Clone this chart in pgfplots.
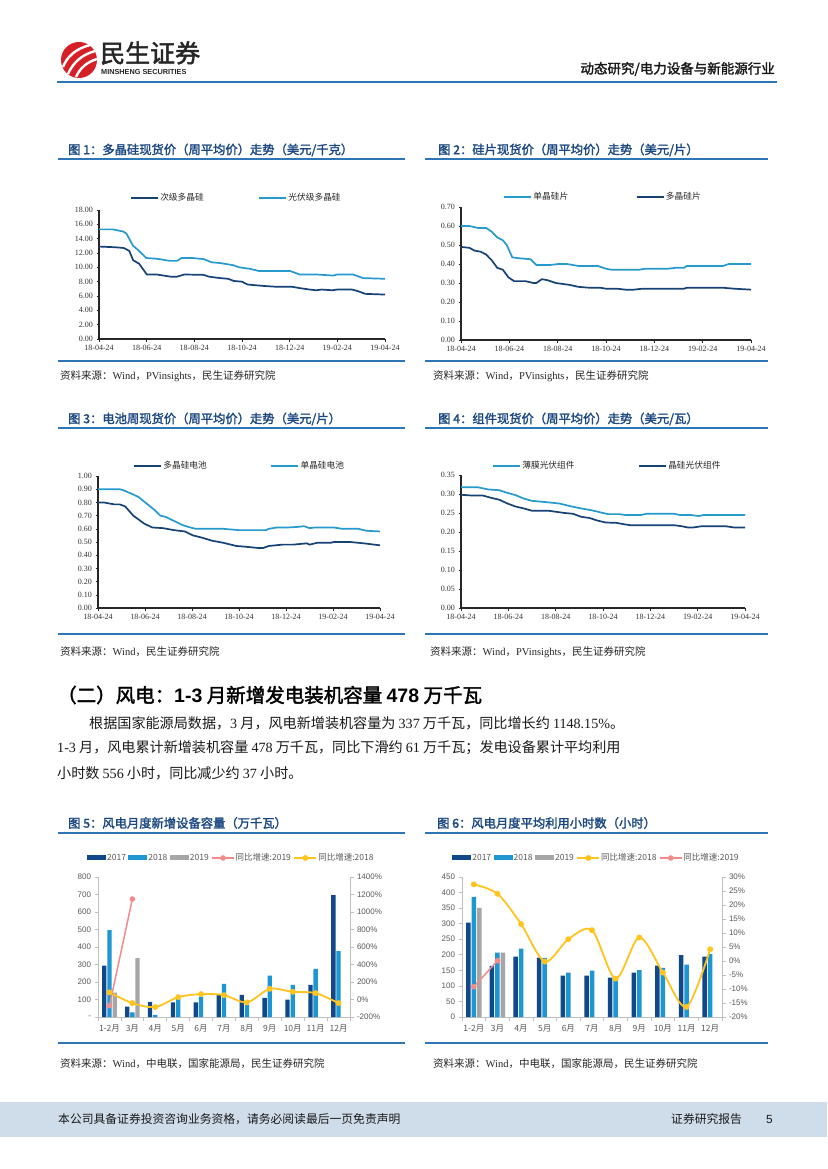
\documentclass[border=0pt]{standalone}
\usepackage{fontspec}
\usepackage{pgfplots}
\pgfplotsset{compat=1.18}
\setmainfont{Liberation Serif}
\newfontfamily\cjk{Noto Sans CJK SC}[AutoFakeBold=2]
\newfontfamily\arial{Liberation Sans}
\newfontfamily\tnr{Liberation Serif}

\definecolor{navy}{RGB}{22,66,118}
\definecolor{lblue}{RGB}{38,153,206}
\definecolor{rulec}{RGB}{46,117,182}
\definecolor{titleblue}{RGB}{28,72,130}
\definecolor{bar17}{RGB}{16,72,138}
\definecolor{bar18}{RGB}{30,150,210}
\definecolor{bar19}{RGB}{166,166,166}
\definecolor{yel}{RGB}{255,196,30}
\definecolor{pinkl}{RGB}{242,140,140}
\definecolor{axgrey}{RGB}{191,191,191}
\definecolor{txtgrey}{RGB}{89,89,89}
\definecolor{footbg}{RGB}{207,220,233}
\definecolor{logored}{RGB}{214,32,40}

\pgfplotsset{
  lc/.style={scale only axis, anchor=south west, xmin=0, xmax=52, ymin=0,
    enlargelimits=false, clip=false,
    axis x line*=bottom, axis y line*=left,
    axis line style={line width=1.2pt, black!85},
    xtick={0,8.6667,17.3333,26,34.6667,43.3333,52},
    xticklabels={18-04-24,18-06-24,18-08-24,18-10-24,18-12-24,19-02-24,19-04-24},
    tick align=outside, major tick length=2.5pt,
    tick style={black!85, line width=0.6pt},
    tick label style={font=\tnr\fontsize{8}{8.5}\selectfont, text=black!80},
    yticklabel style={/pgf/number format/fixed, /pgf/number format/fixed zerofill,
      /pgf/number format/precision=2, /pgf/number format/assume math mode=true},
    legend style={draw=none, fill=none, legend columns=2, anchor=west,
      font=\cjk\fontsize{8.7}{9}\selectfont, text=black!85, inner sep=0pt, nodes={inner sep=1.5pt}},
    legend image code/.code={\draw[#1] (0pt,0pt) -- (27pt,0pt);},
    every axis plot/.append style={line width=1.7pt, no marks},
  },
  bc/.style={scale only axis, anchor=south west, xmin=-0.5, xmax=10.5,
    enlargelimits=false, clip=false,
    axis line style={axgrey, line width=0.8pt},
    tick style={axgrey, line width=0.8pt}, tick align=outside, major tick length=3.5pt,
    tick label style={font=\arial\fontsize{8}{9}\selectfont, text=txtgrey},
  },
  bcx/.style={axis x line*=bottom, axis y line*=left,
    xtick={-0.5,0.5,...,10.5}, xticklabels={},
    extra x ticks={0,1,...,10},
    extra x tick labels={1-2月,3月,4月,5月,6月,7月,8月,9月,10月,11月,12月},
    extra x tick style={xtick style={draw=none}},
    xticklabel style={font=\cjk\fontsize{8.5}{9}\selectfont, text=txtgrey, yshift=-1pt},
    legend style={draw=none, fill=none, legend columns=5, anchor=west,
      font=\cjk\fontsize{8.5}{9}\selectfont, text=txtgrey, inner sep=0pt, nodes={inner sep=1pt},
      /tikz/every even column/.append style={column sep=1.5pt}},
  },
  barleg/.style={legend image code/.code={\fill[##1] (0pt,-2.5pt) rectangle (19pt,2.5pt);}},
  lineleg/.style={legend image code/.code={\draw[mark repeat=2, mark phase=2, ##1] plot coordinates {(0pt,0pt) (11pt,0pt) (22pt,0pt)};}},
}

\begin{document}
\begin{tikzpicture}
\fill[white] (0pt,0pt) rectangle (827pt,-1169pt);
\path[use as bounding box] (0pt,0pt) rectangle (827pt,-1169pt);

% ---------- header ----------
\fill[logored] (79pt,-60pt) circle (18pt);
\draw[white, line width=2.4pt] (63pt,-67pt) .. controls (67pt,-57pt) and (75pt,-49pt) .. (90pt,-45pt);
\draw[white, line width=2.4pt] (68pt,-74pt) .. controls (73pt,-63pt) and (81pt,-55pt) .. (95pt,-51pt);
\draw[white, line width=2.4pt] (76pt,-77pt) .. controls (80pt,-68pt) and (87pt,-62pt) .. (97pt,-59pt);
\node[anchor=west, font=\cjk\bfseries\fontsize{25}{25}\selectfont, text=black!85, inner sep=0pt] at (100pt,-53pt) {民生证券};
\node[anchor=west, font=\arial\bfseries\fontsize{7.3}{8}\selectfont, text=black!85, inner sep=0pt] at (101pt,-72pt) {MINSHENG SECURITIES};
\node[anchor=east, font=\cjk\bfseries\fontsize{13.5}{14}\selectfont, text=black!90, inner sep=0pt] at (775pt,-69pt) {动态研究/电力设备与新能源行业};
\draw[rulec, line width=2pt] (57pt,-82pt) -- (777pt,-82pt);

% ---------- titles, rules, sources ----------
\tikzset{ftitle/.style={anchor=west, font=\cjk\bfseries\fontsize{12.3}{12.5}\selectfont, text=titleblue, inner sep=0pt},
  fsrc/.style={anchor=west, font=\cjk\fontsize{10.5}{11}\selectfont, text=black!85, inner sep=0pt}}
\node[ftitle] at (68pt,-150pt) {图 1：多晶硅现货价（周平均价）走势（美元/千克）};
\node[ftitle] at (438pt,-150pt) {图 2：硅片现货价（周平均价）走势（美元/片）};
\node[ftitle] at (68pt,-419pt) {图 3：电池周现货价（周平均价）走势（美元/片）};
\node[ftitle] at (438pt,-419pt) {图 4：组件现货价（周平均价）走势（美元/瓦）};
\node[ftitle] at (68pt,-823pt) {图 5：风电月度新增设备容量（万千瓦）};
\node[ftitle] at (437pt,-823pt) {图 6：风电月度平均利用小时数（小时）};
\foreach \y in {159,361,428,634,833,1043} {
  \draw[rulec, line width=1.5pt] (58pt,-\y pt) -- (405pt,-\y pt);
  \draw[rulec, line width=1.5pt] (425pt,-\y pt) -- (768pt,-\y pt);
}
\node[fsrc] at (60pt,-376pt) {资料来源：{\tnr Wind}，{\tnr PVinsights}，民生证券研究院};
\node[fsrc] at (433pt,-376pt) {资料来源：{\tnr Wind}，{\tnr PVinsights}，民生证券研究院};
\node[fsrc] at (60pt,-652pt) {资料来源：{\tnr Wind}，民生证券研究院};
\node[fsrc] at (430pt,-652pt) {资料来源：{\tnr Wind}，{\tnr PVinsights}，民生证券研究院};
\node[fsrc] at (60pt,-1064pt) {资料来源：{\tnr Wind}，中电联，国家能源局，民生证券研究院};
\node[fsrc] at (433pt,-1064pt) {资料来源：{\tnr Wind}，中电联，国家能源局，民生证券研究院};

% ---------- section text ----------
\node[anchor=west, font=\cjk\bfseries\fontsize{19.5}{20}\selectfont, text=black, inner sep=0pt] at (57pt,-695pt) {（二）风电：{\arial\bfseries 1-3} 月新增发电装机容量 {\arial\bfseries 478} 万千瓦};
\tikzset{body/.style={anchor=west, font=\cjk\fontsize{14.1}{15}\selectfont, text=black!90, inner sep=0pt}}
\node[body] at (89pt,-723pt) {根据国家能源局数据，{\tnr 3} 月，风电新增装机容量为 {\tnr 337} 万千瓦，同比增长约 {\tnr 1148.15\%}。};
\node[body] at (57pt,-748pt) {{\tnr 1-3} 月，风电累计新增装机容量 {\tnr 478} 万千瓦，同比下滑约 {\tnr 61} 万千瓦；发电设备累计平均利用};
\node[body] at (57pt,-773pt) {小时数 {\tnr 556} 小时，同比减少约 {\tnr 37} 小时。};

% ---------- footer ----------
\fill[footbg] (0pt,-1102pt) rectangle (827pt,-1137pt);
\node[anchor=west, font=\cjk\fontsize{11.8}{12}\selectfont, text=black!90, inner sep=0pt] at (58pt,-1119pt) {本公司具备证券投资咨询业务资格，请务必阅读最后一页免责声明};
\node[anchor=west, font=\cjk\fontsize{11.8}{12}\selectfont, text=black!90, inner sep=0pt] at (671pt,-1119pt) {证券研究报告};
\node[anchor=west, font=\arial\fontsize{11.8}{12}\selectfont, text=black!90, inner sep=0pt] at (766pt,-1119pt) {5};

% ---------- Chart 1 ----------
\begin{axis}[lc, at={(99pt,-339pt)}, width=286pt, height=129pt, ymax=18, ytick={0,2,...,18},
  legend style={at={(0.108,1.093)}, /tikz/every even column/.append style={column sep=53pt}}]
\addplot[navy] coordinates {(0,12.9)(3,12.8)(4.5,12.7)(5.5,12.3)(6.2,11.0)(7.3,10.5)(8.7,9.0)(10.5,9.0)(13,8.7)(14.2,8.7)(15.5,9.0)(19,8.95)(20,8.7)(22,8.5)(23.5,8.4)(24.5,8.1)(26,8.0)(27,7.6)(28.5,7.5)(30,7.4)(32,7.3)(35,7.3)(36.5,7.1)(38.3,6.9)(39.5,6.8)(40.5,6.9)(42.4,6.8)(43.3,6.9)(46,6.9)(47,6.7)(48.4,6.3)(52,6.2)};
\addlegendentry{次级多晶硅}
\addplot[lblue] coordinates {(0,15.3)(2.5,15.3)(4.4,15.0)(5,14.7)(6.2,13.0)(7,12.5)(8.6,11.3)(10.5,11.2)(12.9,10.9)(14.2,10.9)(15,11.3)(17,11.3)(19,11.15)(20.5,10.7)(22,10.6)(24.4,10.3)(25.5,10.0)(27.4,9.8)(29,9.5)(34.7,9.5)(36.5,9.0)(39.6,9.0)(42.6,8.85)(43.3,9.0)(46.2,9.0)(48,8.5)(52,8.4)};
\addlegendentry{光伏级多晶硅}
\end{axis}

% ---------- Chart 2 ----------
\begin{axis}[lc, at={(461pt,-340pt)}, width=290pt, height=133pt, ymax=0.7, ytick={0,0.1,...,0.7},
  legend style={at={(0.145,1.075)}, /tikz/every even column/.append style={column sep=66pt}}]
\addplot[lblue] coordinates {(0,0.60)(1.5,0.60)(3,0.59)(4.5,0.59)(5.5,0.57)(6.5,0.54)(7.5,0.525)(8.2,0.50)(9.2,0.435)(10.5,0.43)(12.5,0.425)(13.5,0.395)(16,0.395)(17.5,0.40)(19,0.40)(21,0.39)(24.5,0.39)(26,0.375)(27,0.37)(32,0.37)(33,0.375)(37,0.375)(38.5,0.38)(40,0.38)(40.5,0.39)(47,0.39)(48,0.40)(52,0.40)};
\addlegendentry{单晶硅片}
\addplot[navy] coordinates {(0,0.49)(1.5,0.485)(2.5,0.47)(3.5,0.465)(4.5,0.45)(5.5,0.42)(6.5,0.38)(7.5,0.37)(8.5,0.33)(9.5,0.31)(11.5,0.31)(13,0.30)(13.5,0.30)(14.5,0.32)(15.5,0.315)(17,0.30)(19.5,0.29)(21,0.28)(23,0.275)(25,0.275)(26,0.27)(28,0.27)(29.5,0.265)(31,0.265)(32.5,0.27)(35,0.27)(40,0.27)(40.5,0.275)(47,0.275)(49,0.27)(52,0.265)};
\addlegendentry{多晶硅片}
\end{axis}

% ---------- Chart 3 ----------
\begin{axis}[lc, at={(98pt,-608pt)}, width=282pt, height=132pt, ymax=1, ytick={0,0.1,...,1.0},
  legend style={at={(0.124,1.076)}, /tikz/every even column/.append style={column sep=62pt}}]
\addplot[navy] coordinates {(0,0.80)(1,0.80)(3,0.785)(4,0.785)(5,0.77)(6.5,0.70)(8.5,0.64)(10,0.61)(12,0.605)(14,0.59)(16,0.58)(17.5,0.55)(19,0.535)(21,0.51)(23,0.495)(25.5,0.47)(27,0.465)(29.5,0.455)(30.5,0.455)(31.5,0.47)(34,0.48)(36,0.48)(38.5,0.49)(39,0.48)(40.5,0.495)(43,0.495)(43.5,0.50)(46.5,0.50)(49,0.49)(51,0.48)(52,0.475)};
\addlegendentry{多晶硅电池}
\addplot[lblue] coordinates {(0,0.90)(4,0.90)(4.8,0.89)(6.5,0.86)(7.5,0.84)(9,0.79)(10.5,0.74)(11.5,0.70)(12.5,0.69)(13.5,0.67)(15.5,0.63)(17,0.61)(18,0.60)(23,0.60)(24.5,0.595)(26,0.59)(31,0.59)(31.5,0.60)(33,0.61)(35,0.61)(37,0.615)(38,0.62)(39,0.605)(40,0.61)(43.5,0.61)(45,0.60)(48,0.60)(49.5,0.585)(52,0.58)};
\addlegendentry{单晶硅电池}
\end{axis}

% ---------- Chart 4 ----------
\begin{axis}[lc, at={(461pt,-608pt)}, width=284pt, height=133pt, ymax=0.35, ytick={0,0.05,...,0.35},
  legend style={at={(0.109,1.068)}, /tikz/every even column/.append style={column sep=62pt}}]
\addplot[lblue] coordinates {(0,0.318)(3,0.318)(4,0.315)(5,0.312)(7,0.310)(8.5,0.303)(10,0.297)(11.5,0.288)(13,0.282)(14.5,0.280)(16,0.278)(18,0.275)(20,0.268)(22,0.262)(24,0.257)(26,0.250)(27,0.247)(29,0.247)(30,0.245)(33,0.245)(34,0.248)(39,0.248)(40,0.245)(42,0.245)(43.5,0.242)(44.5,0.245)(52,0.245)};
\addlegendentry{薄膜光伏组件}
\addplot[navy] coordinates {(0,0.298)(2,0.296)(4,0.296)(5.5,0.290)(7,0.285)(8.5,0.275)(10,0.267)(11.5,0.262)(13,0.256)(16,0.256)(17.5,0.253)(19,0.250)(20.5,0.248)(22,0.240)(23.5,0.237)(25,0.230)(26.5,0.225)(28.5,0.224)(30,0.220)(31,0.218)(39,0.218)(40.5,0.215)(41.5,0.212)(42.5,0.212)(44,0.215)(48.5,0.215)(50,0.212)(52,0.212)};
\addlegendentry{晶硅光伏组件}
\end{axis}

% ---------- Chart 5 ----------
\begin{axis}[bc, bcx, at={(98pt,-1017pt)}, width=252pt, height=140pt,
  ymin=0, ymax=800, ytick={0,100,...,800}, yticklabels={-,100,200,300,400,500,600,700,800},
  legend style={at={(-0.044,1.136)}}]
\addplot[ybar, bar width=4.3pt, bar shift=-5.2pt, fill=bar17, draw=none, barleg] coordinates {(0,294)(1,59)(2,87)(3,83)(4,83)(5,125)(6,127)(7,110)(8,99)(9,184)(10,696)};
\addlegendentry{2017}
\addplot[ybar, bar width=4.3pt, bar shift=0pt, fill=bar18, draw=none, barleg] coordinates {(0,497)(1,27)(2,12)(3,102)(4,117)(5,190)(6,70)(7,237)(8,184)(9,275)(10,377)};
\addlegendentry{2018}
\addplot[ybar, bar width=4.3pt, bar shift=5.2pt, fill=bar19, draw=none, barleg] coordinates {(0,140)(1,337)};
\addlegendentry{2019}
\addlegendimage{pinkl, line width=1.5pt, mark=*, mark size=2pt, mark options={fill=pinkl, draw=pinkl}, lineleg}
\addlegendentry{同比增速:2019}
\addlegendimage{yel, line width=1.8pt, mark=*, mark size=2pt, mark options={fill=yel, draw=yel}, lineleg}
\addlegendentry{同比增速:2018}
\end{axis}
\begin{axis}[bc, at={(98pt,-1017pt)}, width=252pt, height=140pt,
  axis x line=none, axis y line*=right,
  ymin=-200, ymax=1400, ytick={-200,0,...,1400},
  yticklabels={-200\%,0\%,200\%,400\%,600\%,800\%,1000\%,1200\%,1400\%}]
\addplot[yel, line width=1.8pt, smooth, mark=*, mark size=2pt, mark options={fill=yel, draw=yel}] coordinates {(0,81)(1,-41)(2,-86)(3,27)(4,62)(5,50)(6,-33)(7,122)(8,88)(9,73)(10,-41)};
\addplot[pinkl, line width=1.5pt, mark=*, mark size=2pt, mark options={fill=pinkl, draw=pinkl}] coordinates {(0,-71)(1,1148.15)};
\end{axis}

% ---------- Chart 6 ----------
\begin{axis}[bc, bcx, at={(462pt,-1017pt)}, width=260pt, height=140pt,
  ymin=0, ymax=450, ytick={0,50,...,450}, yticklabels={0,50,100,150,200,250,300,350,400,450},
  legend style={at={(-0.038,1.136)}}]
\addplot[ybar, bar width=4.5pt, bar shift=-5.5pt, fill=bar17, draw=none, barleg] coordinates {(0,303)(1,164)(2,194)(3,191)(4,133)(5,133)(6,127)(7,143)(8,165)(9,199)(10,194)};
\addlegendentry{2017}
\addplot[ybar, bar width=4.5pt, bar shift=0pt, fill=bar18, draw=none, barleg] coordinates {(0,386)(1,207)(2,220)(3,190)(4,143)(5,149)(6,122)(7,151)(8,158)(9,168)(10,203)};
\addlegendentry{2018}
\addplot[ybar, bar width=4.5pt, bar shift=5.5pt, fill=bar19, draw=none, barleg] coordinates {(0,351)(1,207)};
\addlegendentry{2019}
\addlegendimage{yel, line width=1.8pt, mark=*, mark size=2pt, mark options={fill=yel, draw=yel}, lineleg}
\addlegendentry{同比增速:2018}
\addlegendimage{pinkl, line width=1.5pt, mark=*, mark size=2pt, mark options={fill=pinkl, draw=pinkl}, lineleg}
\addlegendentry{同比增速:2019}
\end{axis}
\begin{axis}[bc, at={(462pt,-1017pt)}, width=260pt, height=140pt,
  axis x line=none, axis y line*=right,
  ymin=-20, ymax=30, ytick={-20,-15,...,30},
  yticklabels={-20\%,-15\%,-10\%,-5\%,0\%,5\%,10\%,15\%,20\%,25\%,30\%}]
\addplot[yel, line width=1.8pt, smooth, mark=*, mark size=2pt, mark options={fill=yel, draw=yel}] coordinates {(0,27.4)(1,24)(2,13.2)(3,-0.2)(4,7.8)(5,11)(6,-6.3)(7,8.4)(8,-4.1)(9,-16.4)(10,4.2)};
\addplot[pinkl, line width=1.5pt, mark=*, mark size=2pt, mark options={fill=pinkl, draw=pinkl}] coordinates {(0,-9.2)(1,0.1)};
\end{axis}
\end{tikzpicture}
\end{document}
